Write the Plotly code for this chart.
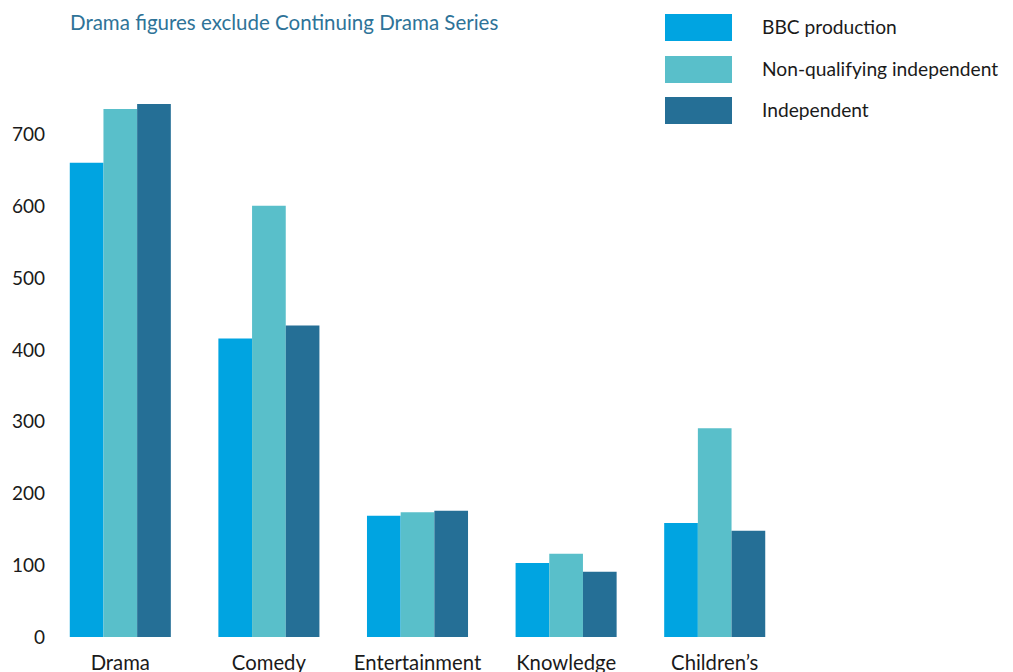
import plotly.graph_objects as go

categories = ["Drama", "Comedy", "Entertainment", "Knowledge", "Children\u2019s"]
bbc_production = [661, 416, 169, 103, 159]
non_qualifying_independent = [736, 601, 174, 116, 291]
independent = [743, 434, 176, 91, 148]
y_ticks = [0, 100, 200, 300, 400, 500, 600, 700]

series_names = ["BBC production", "Non-qualifying independent", "Independent"]
colors = ["#00A4E1", "#59BFCA", "#256F96"]

OFF = 8  # page body margin
W, H = 1013 - OFF, 672 - OFF
# plot area in page pixels: x 46..1003, y 63..637
ML, MR, MT, MB = 46 - OFF, (W + OFF) - 1003, 63 - OFF, (H + OFF) - 637
FONT = "Lato"

def px_x(x):
    return (x - OFF - ML) / (W - ML - MR)

def px_y(y):
    return (H - MB - (y - OFF)) / (H - MT - MB)

fig = go.Figure()
for name, vals, col in zip(series_names, [bbc_production, non_qualifying_independent, independent], colors):
    fig.add_trace(go.Bar(x=categories, y=vals, name=name, marker=dict(color=col, line=dict(width=0)),
                         showlegend=False))

shapes = []
annotations = []
legend_tops = [14, 56, 97]
for name, col, top in zip(series_names, colors, legend_tops):
    shapes.append(dict(type="rect", xref="paper", yref="paper",
                       x0=px_x(665), x1=px_x(732), y0=px_y(top + 27), y1=px_y(top),
                       fillcolor=col, line=dict(width=0)))
    annotations.append(dict(xref="paper", yref="paper", x=px_x(760), y=px_y(top + 12.5),
                            text=name, showarrow=False, xanchor="left", yanchor="middle",
                            font=dict(family=FONT, size=19.2, color="#1a1a1a")))

annotations.append(dict(xref="paper", yref="paper", x=px_x(68), y=px_y(22),
                        text="Drama figures exclude Continuing Drama Series", showarrow=False,
                        xanchor="left", yanchor="middle",
                        font=dict(family=FONT, size=20.5, color="#2E7398")))

fig.update_layout(
    width=W, height=H,
    margin=dict(l=ML, r=MR, t=MT, b=MB, autoexpand=False),
    paper_bgcolor="white", plot_bgcolor="white",
    barmode="group", bargap=0.32, bargroupgap=0,
    font=dict(family=FONT, size=19, color="#1a1a1a"),
    shapes=shapes, annotations=annotations,
    xaxis=dict(type="category", range=[-0.5, 5.94], showgrid=False, showline=False, zeroline=False,
               ticks="outside", ticklen=8, tickcolor="rgba(0,0,0,0)", automargin=False,
               tickfont=dict(family=FONT, size=20.3, color="#1a1a1a")),
    yaxis=dict(range=[0, 800], tickvals=y_ticks, showgrid=False, showline=False, zeroline=False,
               ticks="", automargin=False,
               tickfont=dict(family=FONT, size=19, color="#1a1a1a")),
)

fig.write_html("out.html")
